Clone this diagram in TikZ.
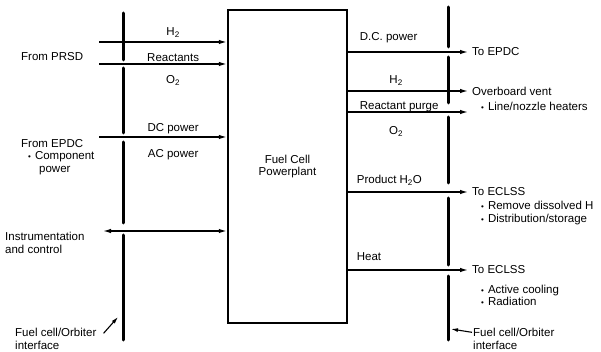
\documentclass[tikz,border=0pt]{standalone}
\usepackage{fontspec}
\setmainfont{Liberation Sans}
\usetikzlibrary{arrows.meta,positioning}
\newcommand\dotitem{{\footnotesize\textbullet}\hspace{4pt}}
\tikzset{
  txt/.style={font=\fontsize{11.5}{12.5}\selectfont, inner sep=0pt, align=left},
  lbl/.style={font=\fontsize{11.5}{12.5}\selectfont, inner sep=0pt},
  dest/.style={txt, anchor=west, inner xsep=4pt},
  flow/.style={->, line width=1.3pt},
  iface/.style={line width=3pt, line cap=round},
  ptr/.style={->, line width=1.1pt}
}

\begin{document}
\begin{tikzpicture}[x=1pt, y=-1pt, >={Latex[length=8pt,width=4.5pt]}]
\useasboundingbox (0,0) rectangle (601,352);

% powerplant
\node[draw, line width=2.4pt, minimum width=119pt, minimum height=313pt,
  lbl, align=center] (fcp) at (287.5,166.5) {Fuel Cell\\Powerplant};

% fuel cell / orbiter interfaces
\foreach \a/\b in {13/60,68/133,142/223,235/340}
  \draw[iface] (123,\a) -- (123,\b);
\foreach \a/\b in {7/47,57/103,117/183,198/265,276/340}
  \draw[iface] (448,\a) -- (448,\b);

% inputs
\coordinate (h2in) at (99,42);
\coordinate (o2in) at (99,64);
\coordinate (dcin) at (99,137);
\coordinate (icin) at (103,231);
\node[txt, anchor=west] (prsd) at (21,57) {From PRSD};
\node[txt, anchor=west] (epdcsrc) at (21,157)
  {From EPDC\\\hspace*{7pt}\dotitem Component\\\hspace*{18pt}power};
\node[txt, anchor=west] (instr) at (5,243) {Instrumentation\\and control};

\draw[flow] (h2in) -- (h2in -| fcp.west)
  node[lbl, above=4pt, pos=.58] {H\textsubscript{2}};
\draw[flow] (o2in) -- (o2in -| fcp.west)
  node[lbl, above=2pt, pos=.58] {Reactants}
  node[lbl, below=11pt, pos=.58] {O\textsubscript{2}};
\draw[flow] (dcin) -- (dcin -| fcp.west)
  node[lbl, above=2.5pt, pos=.58] {DC power}
  node[lbl, below=12pt, pos=.58] {AC power};
\draw[<->, line width=1.3pt] (icin) -- (icin -| fcp.west);

% outputs
\node[dest] (epdc) at (468,52) {To EPDC};
\node[dest] (vent) at (468,91) {Overboard vent};
\coordinate (purge) at (468,112);
\node[txt, anchor=west] (heaters) at (472,106) {\hspace*{9pt}\dotitem Line/nozzle heaters};
\node[dest] (eclssA) at (468,192) {To ECLSS};
\node[txt, anchor=west] (water) at (472,213)
  {\hspace*{9pt}\dotitem Remove dissolved H\\\hspace*{9pt}\dotitem Distribution/storage};
\node[dest] (eclssB) at (468,270) {To ECLSS};
\node[txt, anchor=west] (cool) at (472,295.5)
  {\hspace*{9pt}\dotitem Active cooling\\\hspace*{9pt}\dotitem Radiation};

\draw[flow] (epdc.west -| fcp.east) -- (epdc.west)
  node[lbl, above right=8.5pt and 11pt, pos=0] {D.C. power};
\draw[flow] (vent.west -| fcp.east) -- (vent.west)
  node[lbl, above=5pt, pos=.4] {H\textsubscript{2}};
\draw[flow] (purge -| fcp.east) -- (purge)
  node[lbl, above right=-1pt and 11pt, pos=0] {Reactant purge}
  node[lbl, below=14pt, pos=.4] {O\textsubscript{2}};
\draw[flow] (eclssA.west -| fcp.east) -- (eclssA.west)
  node[lbl, above right=6pt and 8pt, pos=0] {Product H\textsubscript{2}O};
\draw[flow] (eclssB.west -| fcp.east) -- (eclssB.west)
  node[lbl, above right=9pt and 8pt, pos=0] {Heat};

% interface callouts
\node[txt, anchor=west] (ifL) at (15,339) {Fuel cell/Orbiter\\interface};
\node[txt, anchor=west] (ifR) at (473,339) {Fuel cell/Orbiter\\interface};
\coordinate (ptrL) at (118,317);
\coordinate (ptrR) at (451,329);
\draw[ptr, >={Latex[length=7pt,width=4pt]}] ([xshift=7pt,yshift=-5pt]ifL.north east) -- (ptrL);
\draw[ptr, >={Latex[length=7pt,width=4pt]}] ([xshift=-1pt,yshift=-4pt]ifR.north west) -- (ptrR);
\end{tikzpicture}
\end{document}
